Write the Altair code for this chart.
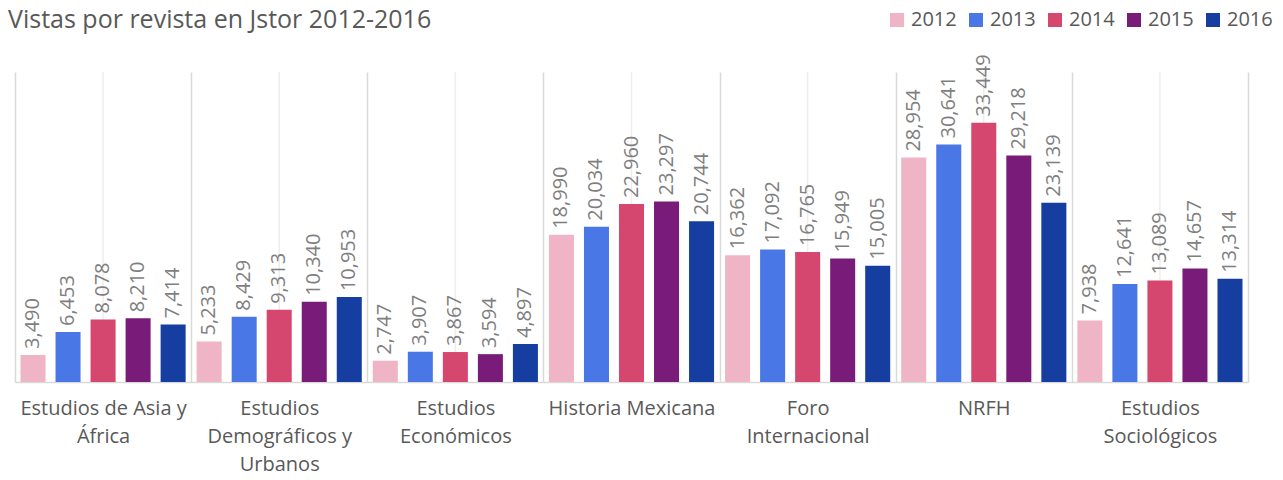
import altair as alt
import pandas as pd

title_text = "Vistas por revista en Jstor 2012-2016"
categories = [
    "Estudios de Asia y\nÁfrica",
    "Estudios\nDemográficos y\nUrbanos",
    "Estudios\nEconómicos",
    "Historia Mexicana",
    "Foro\nInternacional",
    "NRFH",
    "Estudios\nSociológicos",
]
years = ["2012", "2013", "2014", "2015", "2016"]
v2012 = [3490, 5233, 2747, 18990, 16362, 28954, 7938]
v2013 = [6453, 8429, 3907, 20034, 17092, 30641, 12641]
v2014 = [8078, 9313, 3867, 22960, 16765, 33449, 13089]
v2015 = [8210, 10340, 3594, 23297, 15949, 29218, 14657]
v2016 = [7414, 10953, 4897, 20744, 15005, 23139, 13314]
colors = ["#EFB5C7", "#4A77E6", "#D6476F", "#791C79", "#163DA0"]

series = [v2012, v2013, v2014, v2015, v2016]
rows = []
for y, vals in zip(years, series):
    for c, v in zip(categories, vals):
        rows.append({"cat": c, "year": y, "value": v})
df = pd.DataFrame(rows)
cats_df = pd.DataFrame({"cat": categories})
title_df = pd.DataFrame({"t": [title_text]})

FONT = "Open Sans"

x_enc = alt.X(
    "cat:N",
    sort=categories,
    scale=alt.Scale(paddingInner=0, paddingOuter=0),
    axis=alt.Axis(
        title=None,
        labelAngle=0,
        labelAlign="center",
        labelExpr="split(datum.label, '\\n')",
        labelFontSize=20,
        labelFont=FONT,
        labelColor="#595959",
        labelLineHeight=28,
        labelPadding=26,
        ticks=False,
        domainColor="#D9D9D9",
        domainWidth=1.5,
        grid=True,
        gridColor="#D9D9D9",
        gridWidth=1.5,
        tickBand="extent",
        labelLimit=300,
        labelFlush=False,
        labelBound=False,
        labelOverlap=False,
    ),
)

y_scale = alt.Scale(domain=[0, 40000])
off_scale = alt.Scale(paddingInner=0.2857, paddingOuter=0.157)

center_rules = alt.Chart(cats_df).mark_rule(color="#EDEDED", strokeWidth=1.5).encode(
    x=alt.X("cat:N", sort=categories)
)

bars = alt.Chart(df).mark_bar().encode(
    x=x_enc,
    xOffset=alt.XOffset("year:N", sort=years, scale=off_scale),
    y=alt.Y("value:Q", scale=y_scale, axis=None),
    color=alt.Color(
        "year:N",
        sort=years,
        scale=alt.Scale(domain=years, range=colors),
        legend=alt.Legend(
            title=None,
            orient="none",
            direction="horizontal",
            legendX=872,
            legendY=-62,
            symbolType="square",
            symbolSize=196,
            symbolStrokeWidth=0,
            labelFontSize=20,
            labelFont=FONT,
            labelColor="#595959",
            columnPadding=9,
            symbolOffset=0,
        ),
    ),
)

labels = alt.Chart(df).mark_text(
    angle=270, align="left", baseline="middle", dx=6,
    fontSize=20, font=FONT, color="#7F7F7F"
).encode(
    x=alt.X("cat:N", sort=categories),
    xOffset=alt.XOffset("year:N", sort=years, scale=off_scale),
    y=alt.Y("value:Q", scale=y_scale),
    text=alt.Text("value:Q", format=","),
)

title = alt.Chart(title_df).mark_text(
    align="left", baseline="alphabetic", fontSize=25, font=FONT, color="#595959"
).encode(
    x=alt.value(-7),
    y=alt.value(-44),
    text="t:N",
)

chart = alt.layer(center_rules, bars, labels, title).properties(
    width=1233,
    height=310,
    autosize=alt.AutoSizeParams(type="none"),
    padding={"left": 7, "top": 64, "right": 25, "bottom": 90},
).configure_view(stroke=None)

chart.save("out.html", embed_options={"renderer": "svg", "actions": False})
